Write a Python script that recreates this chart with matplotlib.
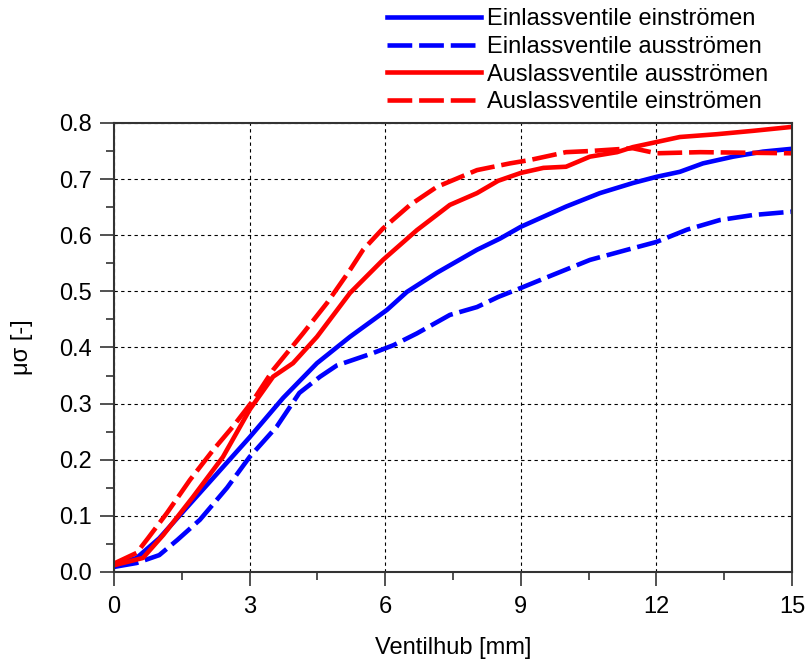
import matplotlib
matplotlib.use("Agg")
import matplotlib.pyplot as plt
from matplotlib.ticker import MultipleLocator

plt.rcParams['font.family'] = ['Liberation Sans', 'DejaVu Sans']

# Einlassventile einströmen
ein_ein_x = [0, 0.5, 1.0, 2.0, 3.0, 3.74, 4.49, 5.22, 6.04, 6.48, 7.14, 8.03, 8.54,
             9.0, 9.5, 10.0, 10.75, 11.48, 12.0, 12.52, 13.03, 13.7, 14.36, 15.0]
ein_ein_y = [0.012, 0.025, 0.06, 0.15, 0.24, 0.31, 0.372, 0.419, 0.467, 0.499, 0.533, 0.574, 0.594,
             0.615, 0.633, 0.651, 0.675, 0.693, 0.704, 0.713, 0.728, 0.74, 0.749, 0.754]

# Einlassventile ausströmen
ein_aus_x = [0, 0.5, 1.0, 1.4, 1.9, 2.5, 3.0, 3.6, 4.1, 4.56, 4.93, 5.73, 6.18, 6.7,
             7.43, 8.03, 8.5, 9.0, 9.7, 10.53, 11.35, 12.0, 12.68, 13.4, 14.14, 15.0]
ein_aus_y = [0.009, 0.016, 0.03, 0.057, 0.093, 0.15, 0.205, 0.259, 0.319, 0.348, 0.368, 0.39, 0.404, 0.425,
             0.458, 0.472, 0.49, 0.506, 0.529, 0.556, 0.574, 0.588, 0.61, 0.627, 0.636, 0.642]

# Auslassventile ausströmen
aus_aus_x = [0, 0.64, 1.09, 1.75, 2.41, 3.0, 3.52, 3.96, 4.49, 5.22, 5.95, 6.7, 7.43, 8.03,
             8.5, 9.0, 9.5, 10.0, 10.53, 11.13, 11.48, 12.0, 12.52, 13.34, 14.14, 15.0]
aus_aus_y = [0.012, 0.025, 0.066, 0.134, 0.205, 0.289, 0.348, 0.372, 0.419, 0.497, 0.556, 0.609, 0.654, 0.675,
             0.697, 0.711, 0.72, 0.722, 0.74, 0.748, 0.757, 0.766, 0.775, 0.78, 0.786, 0.793]

# Auslassventile einströmen
aus_ein_x = [0, 0.5, 0.75, 1.17, 1.68, 2.19, 2.63, 3.08, 3.52, 4.18, 4.71, 5.22, 5.51, 5.95,
             6.55, 7.14, 8.03, 8.76, 9.2, 10.0, 10.53, 11.48, 12.0, 12.97, 15.0]
aus_ein_y = [0.015, 0.034, 0.06, 0.105, 0.164, 0.217, 0.259, 0.306, 0.36, 0.425, 0.479, 0.538, 0.574, 0.612,
             0.654, 0.686, 0.716, 0.728, 0.734, 0.748, 0.75, 0.755, 0.746, 0.748, 0.746]

x_ticks = [0, 3, 6, 9, 12, 15]
y_ticks = [0.0, 0.1, 0.2, 0.3, 0.4, 0.5, 0.6, 0.7, 0.8]

FS = 17

fig = plt.figure(figsize=(8.07, 6.64), dpi=100)
ax = fig.add_axes([0.1413, 0.1386, 0.8401, 0.6762])

lw = 3.3
dash = (0, (5.4, 1.5))
ax.plot(ein_ein_x, ein_ein_y, color='#0000ff', lw=lw, label='Einlassventile einströmen')
ax.plot(ein_aus_x, ein_aus_y, color='#0000ff', lw=lw, linestyle=dash, label='Einlassventile ausströmen')
ax.plot(aus_aus_x, aus_aus_y, color='#ff0000', lw=lw, label='Auslassventile ausströmen')
ax.plot(aus_ein_x, aus_ein_y, color='#ff0000', lw=lw, linestyle=dash, label='Auslassventile einströmen')

ax.set_xlim(0, 15)
ax.set_ylim(0, 0.8)
ax.set_xticks(x_ticks)
ax.set_xticklabels([str(v) for v in x_ticks])
ax.set_yticks(y_ticks)
ax.set_yticklabels([f"{v:.1f}" for v in y_ticks])
ax.xaxis.set_minor_locator(MultipleLocator(1.5))
ax.yaxis.set_minor_locator(MultipleLocator(0.05))
ax.tick_params(which='major', direction='out', length=10, width=1.2, labelsize=FS, colors='#333333',
               labelcolor='black')
ax.tick_params(axis='x', which='major', pad=7)
ax.tick_params(axis='y', which='major', pad=6)
ax.tick_params(which='minor', direction='out', length=5.5, width=1.2, colors='#333333')
ax.grid(True, which='major', color='black', linestyle=(0, (3, 3)), linewidth=0.8)
for sp in ax.spines.values():
    sp.set_color('#333333')
    sp.set_linewidth(1.5)

ax.set_xlabel('Ventilhub [mm]', fontsize=FS, labelpad=14)
ax.set_ylabel('μσ [-]', fontsize=FS, labelpad=19)

leg = fig.legend(loc='upper left', bbox_to_anchor=(387 / 807, 1 - 8 / 664), frameon=False,
                 fontsize=FS, handlelength=4.0, handletextpad=0.25, labelspacing=0.245,
                 borderpad=0, borderaxespad=0)

fig.savefig('out.png', dpi=100)
